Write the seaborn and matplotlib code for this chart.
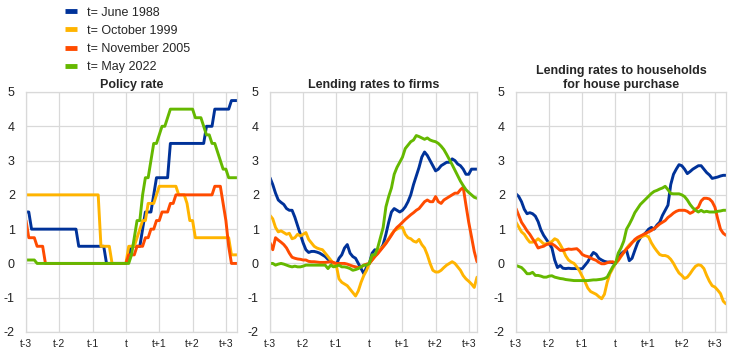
import numpy as np
import pandas as pd
import seaborn as sns
import matplotlib.pyplot as plt
from matplotlib.lines import Line2D

# labels / colours
series = ['t= June 1988', 't= October 1999', 't= November 2005', 't= May 2022']
colors = ['#003299', '#FFB400', '#FF4B00', '#65B800']
titles = ['Policy rate', 'Lending rates to firms',
          'Lending rates to households\nfor house purchase']
tick_labels = ['t-3', 't-2', 't-1', 't', 't+1', 't+2', 't+3']
y_ticks = [-2, -1, 0, 1, 2, 3, 4, 5]

# months relative to t
months_policy = np.arange(-36, 41)
months_firms = np.arange(-36, 40)
months_hh = np.arange(-36, 41)

# policy rate (change vs t, pp)
policy_1988 = [1.5, 1.5, 1.0, 1.0, 1.0, 1.0, 1.0, 1.0, 1.0, 1.0, 1.0, 1.0, 1.0, 1.0, 1.0, 1.0, 1.0,
               1.0, 1.0, 0.5, 0.5, 0.5, 0.5, 0.5, 0.5, 0.5, 0.5, 0.5, 0.5, 0.0, 0.0, 0.0, 0.0, 0.0,
               0.0, 0.0, 0.0, 0.25, 0.5, 0.5, 0.5, 0.5, 1.0, 1.5, 1.5, 1.5, 2.0, 2.5, 2.5, 2.5, 2.5,
               2.5, 3.5, 3.5, 3.5, 3.5, 3.5, 3.5, 3.5, 3.5, 3.5, 3.5, 3.5, 3.5, 3.5, 4.0, 4.0, 4.0,
               4.5, 4.5, 4.5, 4.5, 4.5, 4.5, 4.75, 4.75, 4.75]
policy_1999 = [2.0, 2.0, 2.0, 2.0, 2.0, 2.0, 2.0, 2.0, 2.0, 2.0, 2.0, 2.0, 2.0, 2.0, 2.0, 2.0, 2.0,
               2.0, 2.0, 2.0, 2.0, 2.0, 2.0, 2.0, 2.0, 2.0, 2.0, 0.5, 0.5, 0.5, 0.5, 0.0, 0.0, 0.0,
               0.0, 0.0, 0.0, 0.5, 0.5, 0.5, 0.75, 1.0, 1.25, 1.25, 1.75, 1.75, 1.75, 2.0, 2.25,
               2.25, 2.25, 2.25, 2.25, 2.25, 2.25, 2.0, 2.0, 2.0, 1.75, 1.25, 1.25, 0.75, 0.75,
               0.75, 0.75, 0.75, 0.75, 0.75, 0.75, 0.75, 0.75, 0.75, 0.75, 0.75, 0.25, 0.25, 0.25]
policy_2005 = [1.25, 0.75, 0.75, 0.75, 0.5, 0.5, 0.5, 0.0, 0.0, 0.0, 0.0, 0.0, 0.0, 0.0, 0.0, 0.0,
               0.0, 0.0, 0.0, 0.0, 0.0, 0.0, 0.0, 0.0, 0.0, 0.0, 0.0, 0.0, 0.0, 0.0, 0.0, 0.0, 0.0,
               0.0, 0.0, 0.0, 0.0, 0.25, 0.25, 0.25, 0.5, 0.5, 0.5, 0.75, 0.75, 1.0, 1.0, 1.25, 1.25,
               1.5, 1.5, 1.5, 1.75, 1.75, 2.0, 2.0, 2.0, 2.0, 2.0, 2.0, 2.0, 2.0, 2.0, 2.0, 2.0, 2.0,
               2.0, 2.0, 2.25, 2.25, 2.25, 1.75, 1.25, 0.5, 0.0, 0.0, 0.0]
policy_2022 = [0.1, 0.1, 0.1, 0.1, 0.0, 0.0, 0.0, 0.0, 0.0, 0.0, 0.0, 0.0, 0.0, 0.0, 0.0, 0.0, 0.0,
               0.0, 0.0, 0.0, 0.0, 0.0, 0.0, 0.0, 0.0, 0.0, 0.0, 0.0, 0.0, 0.0, 0.0, 0.0, 0.0, 0.0,
               0.0, 0.0, 0.0, 0.0, 0.25, 0.75, 1.25, 1.25, 2.0, 2.5, 2.5, 3.0, 3.5, 3.5, 3.75, 4.0,
               4.0, 4.25, 4.5, 4.5, 4.5, 4.5, 4.5, 4.5, 4.5, 4.5, 4.5, 4.25, 4.25, 4.25, 4.0, 3.75,
               3.75, 3.5, 3.5, 3.25, 3.0, 2.75, 2.75, 2.5, 2.5, 2.5, 2.5]

# lending rates to firms
firms_1988 = [2.5, 2.3, 2.05, 1.85, 1.78, 1.72, 1.6, 1.55, 1.55, 1.35,
              1.1, 0.85, 0.6, 0.4, 0.32, 0.35, 0.35, 0.33, 0.3, 0.25,
              0.2, 0.12, 0.05, 0.0, -0.05, 0.15, 0.25, 0.45, 0.55, 0.3,
              0.2, 0.15, 0.0, -0.15, -0.3, -0.1, 0.0, 0.3, 0.4, 0.35,
              0.4, 0.55, 0.85, 1.2, 1.5, 1.6, 1.55, 1.5, 1.55, 1.65,
              1.8, 2.0, 2.3, 2.55, 2.8, 3.1, 3.25, 3.15, 3.0, 2.85,
              2.7, 2.75, 2.85, 2.9, 2.95, 2.95, 3.05, 3.0, 2.9, 2.85,
              2.75, 2.6, 2.6, 2.75, 2.75, 2.75]
firms_1999 = [1.4, 1.3, 1.05, 0.92, 0.95, 0.9, 0.85, 0.88, 0.72, 0.75,
              0.85, 0.8, 0.85, 0.9, 0.7, 0.6, 0.5, 0.45, 0.42, 0.4,
              0.3, 0.2, 0.1, 0.0, -0.05, -0.45, -0.55, -0.6, -0.65, -0.75,
              -0.85, -0.95, -0.8, -0.55, -0.35, -0.2, 0.0, 0.1, 0.2, 0.3,
              0.42, 0.5, 0.6, 0.72, 0.85, 0.95, 1.0, 1.05, 1.05, 0.85,
              0.75, 0.72, 0.65, 0.62, 0.7, 0.55, 0.45, 0.25, 0.0, -0.2,
              -0.25, -0.25, -0.2, -0.12, -0.05, 0.0, 0.05, 0.0, -0.1, -0.2,
              -0.35, -0.45, -0.52, -0.6, -0.7, -0.4]
firms_2005 = [0.6, 0.4, 0.75, 0.68, 0.62, 0.55, 0.45, 0.3, 0.18, 0.15,
              0.13, 0.12, 0.1, 0.1, 0.06, 0.05, 0.05, 0.04, 0.03, 0.03,
              0.03, 0.04, 0.05, 0.03, 0.0, 0.0, 0.0, 0.0, -0.02, -0.05,
              -0.08, -0.1, -0.12, -0.1, -0.05, -0.02, 0.0, 0.1, 0.2, 0.28,
              0.38, 0.48, 0.58, 0.7, 0.82, 0.95, 1.05, 1.12, 1.2, 1.28,
              1.35, 1.42, 1.48, 1.55, 1.6, 1.7, 1.8, 1.85, 1.8, 1.8,
              1.95, 1.8, 1.75, 1.85, 1.9, 1.95, 2.0, 2.05, 2.05, 2.15,
              2.22, 1.7, 1.2, 0.78, 0.35, 0.05]
firms_2022 = [0.0, 0.0, -0.05, -0.02, 0.0, -0.02, -0.05, -0.08, -0.1, -0.08,
              -0.1, -0.1, -0.08, -0.05, -0.05, -0.05, -0.05, -0.05, -0.05, -0.05,
              -0.05, -0.15, -0.05, -0.1, -0.08, -0.05, -0.1, -0.1, -0.12, -0.15,
              -0.2, -0.18, -0.15, -0.1, -0.05, -0.05, 0.0, 0.25, 0.25, 0.45,
              0.75, 1.05, 1.65, 1.95, 2.2, 2.6, 2.8, 2.95, 3.1, 3.35,
              3.45, 3.55, 3.6, 3.73, 3.7, 3.66, 3.62, 3.66, 3.6, 3.57,
              3.55, 3.5, 3.42, 3.32, 3.18, 3.03, 2.88, 2.72, 2.56, 2.4,
              2.27, 2.15, 2.07, 2.0, 1.93, 1.9]

# lending rates to households for house purchase
hh_1988 = [2.03, 1.95, 1.8, 1.58, 1.45, 1.48, 1.45, 1.38, 1.22, 0.98,
           0.82, 0.7, 0.58, 0.45, 0.1, -0.12, -0.06, -0.14, -0.15, -0.14,
           -0.15, -0.15, -0.15, -0.16, -0.15, -0.05, 0.05, 0.2, 0.32, 0.27,
           0.15, 0.1, 0.06, 0.04, 0.04, 0.02, 0.0, 0.18, 0.28, 0.35,
           0.38, 0.08, 0.15, 0.38, 0.6, 0.75, 0.82, 0.9, 1.0, 1.05,
           1.0, 1.12, 1.2, 1.4, 1.55, 1.7, 2.3, 2.6, 2.75, 2.88,
           2.85, 2.75, 2.62, 2.68, 2.75, 2.8, 2.85, 2.85, 2.75, 2.65,
           2.58, 2.48, 2.5, 2.52, 2.55, 2.57, 2.57]
hh_1999 = [1.2, 1.06, 0.92, 0.85, 0.72, 0.62, 0.62, 0.65, 0.72, 0.65,
           0.57, 0.57, 0.6, 0.64, 0.72, 0.68, 0.55, 0.4, 0.22, 0.1,
           0.04, 0.0, -0.1, -0.22, -0.38, -0.54, -0.72, -0.82, -0.86, -0.9,
           -0.97, -1.03, -0.9, -0.55, -0.3, -0.15, 0.0, 0.08, 0.2, 0.32,
           0.44, 0.54, 0.62, 0.67, 0.72, 0.76, 0.8, 0.82, 0.77, 0.6,
           0.47, 0.36, 0.26, 0.23, 0.23, 0.2, 0.12, 0.0, -0.15, -0.28,
           -0.35, -0.44, -0.4, -0.3, -0.18, -0.08, -0.04, -0.06, -0.15, -0.35,
           -0.52, -0.65, -0.69, -0.78, -0.88, -1.1, -1.18]
hh_2005 = [1.6, 1.4, 1.2, 1.08, 0.95, 0.85, 0.72, 0.6, 0.45, 0.48,
           0.5, 0.55, 0.57, 0.57, 0.52, 0.45, 0.38, 0.38, 0.4, 0.42,
           0.41, 0.42, 0.43, 0.36, 0.26, 0.22, 0.2, 0.16, 0.12, 0.09,
           0.03, -0.01, -0.01, 0.02, 0.04, 0.05, 0.0, 0.1, 0.22, 0.32,
           0.42, 0.5, 0.6, 0.7, 0.76, 0.8, 0.84, 0.88, 0.92, 0.96,
           1.02, 1.08, 1.15, 1.2, 1.25, 1.34, 1.4, 1.47, 1.52, 1.55,
           1.55, 1.55, 1.52, 1.46, 1.5, 1.58, 1.64, 1.82, 1.9, 1.9,
           1.88, 1.8, 1.64, 1.3, 1.0, 0.88, 0.82]
hh_2022 = [-0.06, -0.09, -0.12, -0.2, -0.3, -0.3, -0.26, -0.35, -0.35, -0.37,
           -0.4, -0.4, -0.37, -0.36, -0.4, -0.42, -0.44, -0.45, -0.47, -0.48,
           -0.49, -0.5, -0.5, -0.5, -0.5, -0.5, -0.5, -0.49, -0.48, -0.48,
           -0.47, -0.46, -0.44, -0.4, -0.25, -0.1, 0.0, 0.3, 0.45, 0.65,
           1.0, 1.14, 1.3, 1.48, 1.6, 1.72, 1.8, 1.88, 1.96, 2.04,
           2.1, 2.13, 2.17, 2.2, 2.25, 2.15, 2.04, 2.03, 2.03, 2.03,
           2.0, 1.95, 1.85, 1.72, 1.62, 1.55, 1.5, 1.55, 1.5, 1.52,
           1.5, 1.5, 1.5, 1.52, 1.53, 1.55, 1.55]

panels = [
    (months_policy, [policy_1988, policy_1999, policy_2005, policy_2022]),
    (months_firms, [firms_1988, firms_1999, firms_2005, firms_2022]),
    (months_hh, [hh_1988, hh_1999, hh_2005, hh_2022]),
]

sns.set_style('white')
plt.rcParams['font.family'] = ['Liberation Sans', 'DejaVu Sans']
plt.rcParams['axes.unicode_minus'] = False

W, H = 745, 354
fig = plt.figure(figsize=(W / 100, H / 100), dpi=100)

# axes boxes in pixels: left, right
boxes = [(26, 237), (270, 477), (516, 726)]
top, bottom = 92, 332
grid_col = '#d9d9d9'

for (months, vals), (l, r), title in zip(panels, boxes, titles):
    ax = fig.add_axes([l / W, (H - bottom) / H, (r - l) / W, (bottom - top) / H])
    df = pd.concat([pd.DataFrame({'month': months, 'value': v, 'series': s})
                    for v, s in zip(vals, series)])
    sns.lineplot(data=df, x='month', y='value', hue='series', hue_order=series,
                 palette=colors, linewidth=2.1, estimator=None, legend=False, ax=ax,
                 solid_capstyle='round', solid_joinstyle='round')
    ax.set_xlim(months[0], months[-1])
    ax.set_ylim(-2, 5)
    ax.set_xticks(np.arange(-36, 37, 12))
    ax.set_xticklabels(tick_labels)
    ax.set_yticks(y_ticks)
    ax.grid(True, color=grid_col, linewidth=0.9)
    ax.set_axisbelow(True)
    for sp in ax.spines.values():
        sp.set_color(grid_col)
        sp.set_linewidth(0.9)
    ax.tick_params(axis='y', length=0, pad=8, labelsize=9, colors='#222222')
    ax.tick_params(axis='x', length=0, pad=5, labelsize=7.5, colors='#222222')
    ax.set_xlabel('')
    ax.set_ylabel('')
    ax.set_title(title, fontsize=9, fontweight='bold', pad=3, linespacing=1.2)

handles = [Line2D([], [], color=c, lw=3.5, solid_capstyle='butt') for c in colors]
fig.legend(handles=handles, labels=series, loc='upper left',
           bbox_to_anchor=(65 / W, 1 - 6.5 / H), frameon=False, fontsize=9,
           handlelength=0.96, handletextpad=0.8, labelspacing=0.5,
           borderaxespad=0, borderpad=0)

fig.savefig('out.png', dpi=100)
